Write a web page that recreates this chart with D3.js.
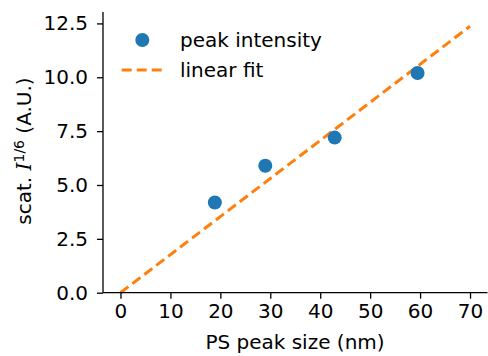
<!DOCTYPE html>
<html>
<head>
<meta charset="utf-8">
<script src="https://cdn.jsdelivr.net/npm/d3@7"></script>
<style>
  body { margin: 0; background: #fff; }
  text { font-family: "DejaVu Sans", sans-serif; fill: #000; }
</style>
</head>
<body>
<svg id="chart" width="488" height="356"></svg>
<script>
// measured peaks
const peakSize = [18.9, 29, 42.9, 59.5]
const peakIntensity = [4.19, 5.89, 7.2, 10.2]
// fit line end points
const fitX = [0, 70]
const fitY = [0, 12.37]
const xTicks = [0, 10, 20, 30, 40, 50, 60, 70]
const yTicks = [0, 2.5, 5, 7.5, 10, 12.5]

const svg = d3.select('#chart')
const mLeft = 103, mRight = 487.5, mTop = 12, mBottom = 292.7

const x = d3.scaleLinear().domain([-3.5, 73.5]).range([mLeft, mRight])
const y = d3.scaleLinear().domain([0, 13.03]).range([mBottom, mTop])

const blue = '#1f77b4', orange = '#ff7f0e'

// fit line
svg.append('path')
  .datum(fitX.map((d, i) => [d, fitY[i]]))
  .attr('d', d3.line().x(d => x(d[0])).y(d => y(d[1])))
  .attr('fill', 'none')
  .attr('stroke', orange)
  .attr('stroke-width', 3)
  .attr('stroke-dasharray', '10,5')

// points
svg.selectAll('circle.pt')
  .data(peakSize)
  .enter().append('circle')
  .attr('class', 'pt')
  .attr('cx', d => x(d))
  .attr('cy', (d, i) => y(peakIntensity[i]))
  .attr('r', 7)
  .attr('fill', blue)

// axes
const xAxis = svg.append('g')
  .attr('transform', `translate(0,${mBottom})`)
  .call(d3.axisBottom(x).tickValues(xTicks).tickSize(6).tickPadding(5).tickFormat(d3.format('d')))
const yAxis = svg.append('g')
  .attr('transform', `translate(${mLeft},0)`)
  .call(d3.axisLeft(y).tickValues(yTicks).tickSize(6).tickPadding(9).tickFormat(d3.format('.1f')))

;[xAxis, yAxis].forEach(g => {
  g.select('.domain').attr('stroke', '#000').attr('stroke-width', 1.3)
  g.selectAll('.tick line').attr('stroke', '#000').attr('stroke-width', 1.3)
  g.selectAll('.tick text')
    .style('font-family', '"DejaVu Sans", sans-serif')
    .style('font-size', '20px')
    .attr('fill', '#000')
})
// drop the outer tick stubs
xAxis.select('.domain').attr('d', `M${mLeft},0H${mRight}`)
yAxis.select('.domain').attr('d', `M0,${mBottom}V${mTop}`)

// axis labels
svg.append('text')
  .attr('x', 295).attr('y', 349)
  .attr('text-anchor', 'middle')
  .style('font-size', '20px')
  .text('PS peak size (nm)')

const yl = svg.append('text')
  .attr('transform', 'translate(31,151) rotate(-90)')
  .attr('text-anchor', 'middle')
  .style('font-size', '20px')
yl.append('tspan').text('scat. ')
yl.append('tspan').text('I')
  .style('font-family', '"DejaVu Serif", serif')
  .style('font-style', 'italic')
yl.append('tspan').text('1/6').attr('dy', -7).style('font-size', '14px')
yl.append('tspan').text(' (A.U.)').attr('dy', 7)

// legend
const lg = svg.append('g')
lg.append('circle').attr('cx', 142.3).attr('cy', 40).attr('r', 7).attr('fill', blue)
lg.append('text').attr('x', 180).attr('y', 47).style('font-size', '20px').text('peak intensity')
lg.append('line')
  .attr('x1', 121.7).attr('x2', 162.7).attr('y1', 70).attr('y2', 70)
  .attr('stroke', orange).attr('stroke-width', 3).attr('stroke-dasharray', '10,5')
lg.append('text').attr('x', 180).attr('y', 77).style('font-size', '20px').text('linear fit')
</script>
</body>
</html>
